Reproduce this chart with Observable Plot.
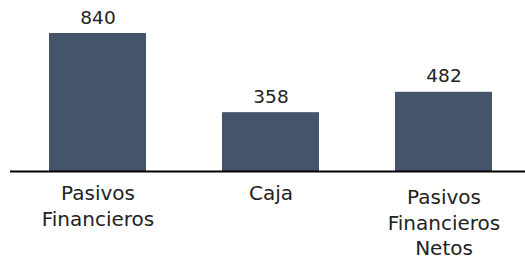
<!DOCTYPE html>
<html><head><meta charset="utf-8">
<script src="https://cdn.jsdelivr.net/npm/d3@7"></script>
<script src="https://cdn.jsdelivr.net/npm/@observablehq/plot@0.6"></script>
<style>body{margin:0;background:#fff;} #chart svg{display:block;}</style>
</head><body><div id="chart"></div>
<script>
const categories = ["Pasivos Financieros", "Caja", "Pasivos Financieros Netos"];
const values = [840, 358, 482];
const tickLabels = ["Pasivos\nFinancieros", "Caja", "Pasivos\nFinancieros\nNetos"];

const data = categories.map((c, i) => ({
  category: c,
  value: values[i],
  label: tickLabels[i],
  lines: tickLabels[i].split("\n").length
}));

const chart = Plot.plot({
  width: 525,
  height: 259,
  marginTop: 33,
  marginBottom: 88,
  marginLeft: 10,
  marginRight: 0,
  x: {domain: categories, range: [9.6, 530.85], paddingInner: 0.442, paddingOuter: 0.221, axis: null},
  y: {domain: [0, 840], axis: null},
  style: {fontFamily: "DejaVu Sans", background: "#fff", color: "#222"},
  marks: [
    Plot.barY(data, {x: "category", y: "value", fill: "#44546A"}),
    Plot.ruleY([0], {stroke: "#000", strokeWidth: 2}),
    Plot.text(data, {x: "category", y: "value", text: d => String(d.value), lineAnchor: "bottom", dy: -10, fontSize: 18.5, fill: "#222"}),
    Plot.text(data.filter(d => d.lines < 3), {x: "category", y: 0, text: "label", lineAnchor: "top", dy: 10.1, fontSize: 20, lineHeight: 1.285, fill: "#222"}),
    Plot.text(data.filter(d => d.lines >= 3), {x: "category", y: 0, text: "label", lineAnchor: "top", dy: 14.1, fontSize: 20, lineHeight: 1.285, fill: "#222"})
  ]
});
document.getElementById("chart").appendChild(chart);
</script>
</body></html>
